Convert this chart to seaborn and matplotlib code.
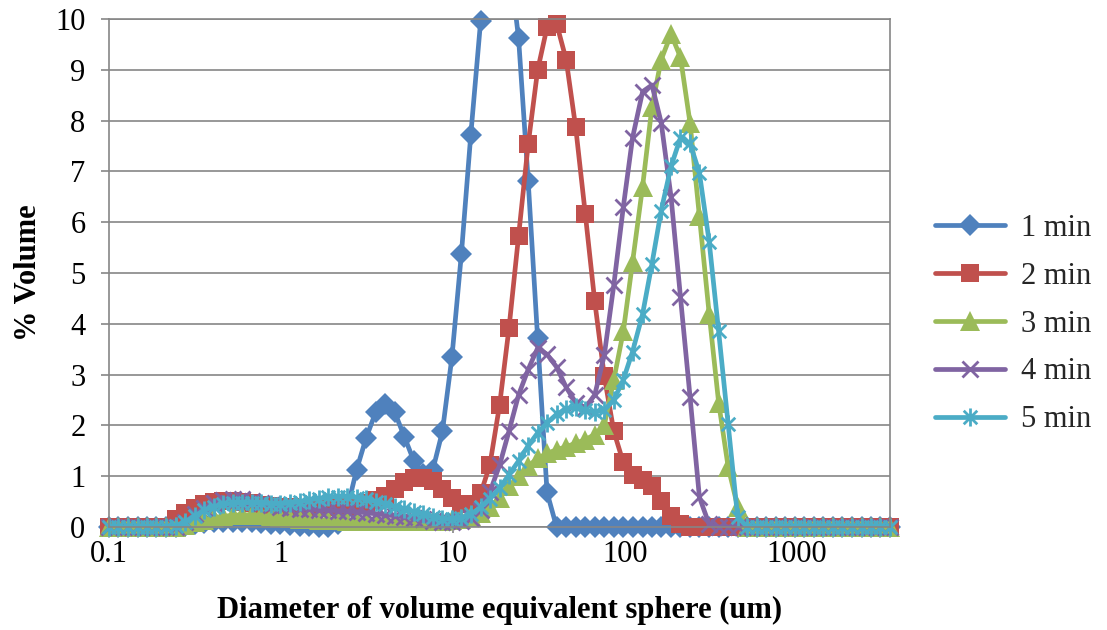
import numpy as np
import seaborn as sns
import matplotlib
matplotlib.use("Agg")
import matplotlib.pyplot as plt
from matplotlib.lines import Line2D
from matplotlib.path import Path
from matplotlib.ticker import FixedLocator, FixedFormatter, NullLocator

# particle size classes (um)
sizes = [0.0995, 0.113, 0.128, 0.146, 0.166, 0.188, 0.214, 0.243, 0.276, 0.314,
         0.357, 0.405, 0.460, 0.523, 0.594, 0.675, 0.767, 0.872, 0.991, 1.13,
         1.28, 1.45, 1.65, 1.88, 2.13, 2.42, 2.75, 3.12, 3.55, 4.03,
         4.58, 5.21, 5.92, 6.72, 7.64, 8.68, 9.86, 11.2, 12.7, 14.5,
         16.4, 18.7, 21.2, 24.1, 27.4, 31.1, 35.3, 40.1, 45.6, 51.8,
         58.9, 66.9, 76.0, 86.4, 98.1, 111, 127, 144, 163, 186,
         211, 240, 272, 310, 352, 400, 454, 516, 586, 666,
         756, 859, 976, 1110, 1260, 1430, 1630, 1850, 2100, 2390,
         2710, 3080, 3500]

# % volume per series
min1 = [0, 0, 0, 0, 0, 0, 0, 0, 0.02, 0.05,
        0.07, 0.09, 0.10, 0.10, 0.10, 0.09, 0.08, 0.06, 0.05, 0.03,
        0.02, 0.01, 0, 0, 0.05, 0.35, 1.13, 1.75, 2.26, 2.43,
        2.26, 1.78, 1.30, 1.05, 1.13, 1.88, 3.34, 5.38, 7.72, 9.97,
        12.0, 12.4, 11.2, 9.62, 6.82, 3.72, 0.68, 0, 0, 0,
        0, 0, 0, 0, 0, 0, 0, 0, 0, 0,
        0, 0, 0, 0, 0, 0, 0, 0, 0, 0,
        0, 0, 0, 0, 0, 0, 0, 0, 0, 0,
        0, 0, 0]
min2 = [0, 0, 0, 0, 0, 0, 0, 0.15, 0.27, 0.37,
        0.45, 0.50, 0.52, 0.52, 0.50, 0.47, 0.44, 0.42, 0.40, 0.39,
        0.38, 0.38, 0.38, 0.39, 0.40, 0.42, 0.45, 0.48, 0.53, 0.62,
        0.75, 0.88, 0.96, 0.97, 0.90, 0.75, 0.58, 0.45, 0.46, 0.66,
        1.22, 2.41, 3.92, 5.73, 7.53, 8.99, 9.84, 9.91, 9.20, 7.87,
        6.17, 4.44, 2.97, 1.88, 1.27, 1.03, 0.93, 0.80, 0.52, 0.22,
        0.06, 0, 0, 0, 0, 0, 0, 0, 0, 0,
        0, 0, 0, 0, 0, 0, 0, 0, 0, 0,
        0, 0, 0]
min3 = [0, 0, 0, 0, 0, 0, 0, 0, 0.04, 0.09,
        0.14, 0.18, 0.21, 0.23, 0.24, 0.24, 0.23, 0.21, 0.19, 0.17,
        0.16, 0.15, 0.14, 0.13, 0.13, 0.12, 0.12, 0.12, 0.12, 0.12,
        0.12, 0.12, 0.12, 0.12, 0.12, 0.12, 0.13, 0.16, 0.21, 0.28,
        0.40, 0.58, 0.80, 1.00, 1.20, 1.35, 1.45, 1.52, 1.58, 1.65,
        1.72, 1.82, 2.00, 2.90, 3.85, 5.21, 6.70, 8.27, 9.20, 9.70,
        9.25, 7.95, 6.12, 4.20, 2.45, 1.18, 0.40, 0, 0, 0,
        0, 0, 0, 0, 0, 0, 0, 0, 0, 0,
        0, 0, 0]
min4 = [0, 0, 0, 0, 0, 0, 0, 0, 0.10, 0.25,
        0.38, 0.48, 0.54, 0.56, 0.55, 0.52, 0.47, 0.43, 0.40, 0.38,
        0.36, 0.35, 0.34, 0.33, 0.32, 0.31, 0.30, 0.28, 0.26, 0.24,
        0.22, 0.20, 0.18, 0.15, 0.12, 0.10, 0.09, 0.12, 0.18, 0.33,
        0.69, 1.22, 1.89, 2.60, 3.10, 3.52, 3.40, 3.15, 2.75, 2.45,
        2.35, 2.60, 3.38, 4.77, 6.30, 7.66, 8.57, 8.70, 7.96, 6.50,
        4.53, 2.56, 0.59, 0.05, 0, 0, 0, 0, 0, 0,
        0, 0, 0, 0, 0, 0, 0, 0, 0, 0,
        0, 0, 0]
min5 = [0, 0, 0, 0, 0, 0, 0, 0.02, 0.10, 0.22,
        0.33, 0.40, 0.45, 0.47, 0.48, 0.48, 0.47, 0.46, 0.46, 0.47,
        0.50, 0.53, 0.56, 0.59, 0.60, 0.60, 0.58, 0.55, 0.50, 0.45,
        0.40, 0.35, 0.30, 0.25, 0.20, 0.16, 0.15, 0.18, 0.25, 0.39,
        0.56, 0.77, 1.03, 1.30, 1.60, 1.85, 2.05, 2.22, 2.32, 2.36,
        2.30, 2.26, 2.30, 2.50, 2.90, 3.45, 4.19, 5.18, 6.23, 7.10,
        7.66, 7.55, 6.97, 5.62, 3.85, 2.02, 0.20, 0, 0, 0,
        0, 0, 0, 0, 0, 0, 0, 0, 0, 0,
        0, 0, 0]

labels = ["1 min", "2 min", "3 min", "4 min", "5 min"]
colors = ["#4F81BD", "#C0504D", "#9BBB59", "#8064A2", "#4BACC6"]

# Excel style asterisk marker (x with a vertical bar)
star = Path([(0, -1), (0, 1), (-0.75, -0.75), (0.75, 0.75), (-0.75, 0.75), (0.75, -0.75)],
            [Path.MOVETO, Path.LINETO] * 3)
mk = [dict(marker="D", ms=11.5, mew=0),
      dict(marker="s", ms=13, mew=0),
      dict(marker="^", ms=14, mew=0),
      dict(marker="x", ms=12, mew=2.0),
      dict(marker=star, ms=13, mew=2.0)]

sns.set_theme(style="white")
plt.rcParams["font.family"] = ["Liberation Serif", "DejaVu Serif"]
grey = "#868686"

fig = plt.figure(figsize=(11.07, 6.30), dpi=100)
ax = fig.add_axes([109 / 1107, 103 / 630, 781 / 1107, 508 / 630])

x = np.array(sizes)
handles = []
for vals, lab, c, m in zip([min1, min2, min3, min4, min5], labels, colors, mk):
    y = np.array(vals)
    # line, clipped to the plot area
    sns.lineplot(x=x, y=y, color=c, lw=3.4, ax=ax, legend=False)
    # markers drawn in full (also the ones sitting on 0)
    keep = y <= 10.05
    sns.lineplot(x=x[keep], y=y[keep], color=c, ls="", ax=ax, legend=False,
                 clip_on=False, mec=c, mfc=c, **m)
    handles.append(Line2D([], [], color=c, lw=3.4, mec=c, mfc=c, **m))

ax.set_xscale("log")
ax.set_xlim(0.0995, 3500)
ax.set_ylim(0, 10)
ax.xaxis.set_major_locator(FixedLocator([0.1, 1, 10, 100, 1000]))
ax.xaxis.set_major_formatter(FixedFormatter(["0.1", "1", "10", "100", "1000"]))
ax.xaxis.set_minor_locator(NullLocator())
ax.set_yticks(range(0, 11))

ax.grid(axis="y", color=grey, lw=1.2)
ax.grid(axis="x", visible=False)
for s in ax.spines.values():
    s.set_color(grey)
    s.set_linewidth(1.2)
ax.tick_params(axis="y", direction="out", length=6, width=1.2, color=grey,
               left=True, pad=11, labelsize=22, labelcolor="black")
ax.tick_params(axis="x", direction="out", length=4.5, width=1.2, color=grey,
               bottom=True, pad=5, labelsize=22, labelcolor="black")

ax.set_xlabel("Diameter of volume equivalent sphere (um)", fontsize=22,
              fontweight="bold", color="black")
ax.set_ylabel("% Volume", fontsize=22, fontweight="bold", color="black")
ax.xaxis.set_label_coords(0.5, -0.135)
ax.yaxis.set_label_coords(-0.085, 0.5)

fig.legend(handles, labels, loc="center left", bbox_to_anchor=(935 / 1107, 1 - 324 / 630),
           frameon=False, fontsize=22, handlelength=2.3, handletextpad=0.5,
           labelspacing=0.62, borderpad=0, borderaxespad=0)

fig.savefig("out.png", dpi=100)
